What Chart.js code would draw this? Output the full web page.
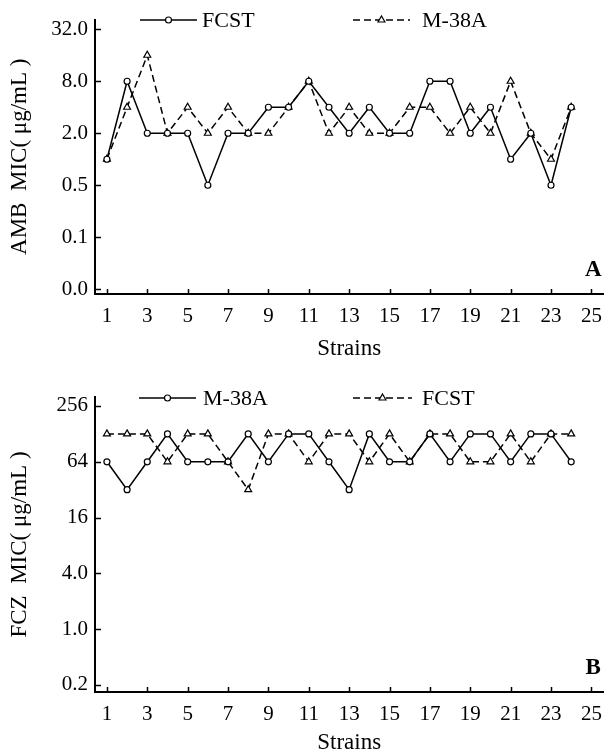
<!DOCTYPE html>
<html>
<head>
<meta charset="utf-8">
<script src="https://cdn.jsdelivr.net/npm/chart.js@4"></script>
<style>
  body { margin: 0; background: #fff; }
  #wrap { position: relative; width: 612px; height: 754px; }
  canvas { position: absolute; left: 0; }
</style>
</head>
<body>
<div id="wrap">
  <canvas id="chartA" width="612" height="365" style="top:0"></canvas>
  <canvas id="chartB" width="612" height="389" style="top:365px"></canvas>
</div>
<script>
// strains on the x axis
const strains = [1, 2, 3, 4, 5, 6, 7, 8, 9, 10, 11, 12, 13, 14, 15, 16, 17, 18, 19, 20, 21, 22, 23, 24];
const xTicks = [1, 3, 5, 7, 9, 11, 13, 15, 17, 19, 21, 23, 25];

// panel A: AMB MIC (ug/mL)
const ambFcst = [1, 8, 2, 2, 2, 0.5, 2, 2, 4, 4, 8, 4, 2, 4, 2, 2, 8, 8, 2, 4, 1, 2, 0.5, 4];
const ambM38a = [1, 4, 16, 2, 4, 2, 4, 2, 2, 4, 8, 2, 4, 2, 2, 4, 4, 2, 4, 2, 8, 2, 1, 4];
const ambTicks = [0.03125, 0.125, 0.5, 2, 8, 32];
const ambLabels = ['0.0', '0.1', '0.5', '2.0', '8.0', '32.0'];

// panel B: FCZ MIC (ug/mL)
const fczM38a = [64, 32, 64, 128, 64, 64, 64, 128, 64, 128, 128, 64, 32, 128, 64, 64, 128, 64, 128, 128, 64, 128, 128, 64];
const fczFcst = [128, 128, 128, 64, 128, 128, 64, 32, 128, 128, 64, 128, 128, 64, 128, 64, 128, 128, 64, 64, 128, 64, 128, 128];
const fczTicks = [0.25, 1, 4, 16, 64, 256];
const fczLabels = ['0.2', '1.0', '4.0', '16', '64', '256'];

Chart.defaults.font.family = '"Liberation Serif", "Times New Roman", serif';
Chart.defaults.color = '#000';

// small ticks pointing into the plot
const inwardTicks = {
    id: 'inwardTicks',
    afterDraw(chart) {
        const ctx = chart.ctx;
        const area = chart.chartArea;
        const x = chart.scales.x, y = chart.scales.y;
        ctx.save();
        ctx.strokeStyle = '#000';
        ctx.lineWidth = 1.5;
        ctx.beginPath();
        x.ticks.forEach(t => {
            const px = Math.round(x.getPixelForValue(t.value)) + 0.5;
            ctx.moveTo(px, area.bottom);
            ctx.lineTo(px, area.bottom - 5);
        });
        y.ticks.forEach(t => {
            const py = Math.round(y.getPixelForValue(t.value)) + 0.5;
            ctx.moveTo(area.left, py);
            ctx.lineTo(area.left + 6, py);
        });
        ctx.stroke();
        ctx.restore();
    }
};

// legend drawn as line + marker + text
const lineKey = {
    id: 'lineKey',
    afterDraw(chart, args, opts) {
        const ctx = chart.ctx;
        ctx.save();
        chart.data.datasets.forEach((ds, i) => {
            const it = opts.items[i];
            ctx.strokeStyle = '#000';
            ctx.lineWidth = 1.5;
            ctx.setLineDash(ds.borderDash || []);
            ctx.beginPath();
            ctx.moveTo(it.x0, opts.y);
            ctx.lineTo(it.x1, opts.y);
            ctx.stroke();
            ctx.setLineDash([]);
            ctx.fillStyle = '#fff';
            ctx.lineWidth = 1.2;
            Chart.helpers.drawPoint(ctx, {
                pointStyle: ds.pointStyle,
                radius: ds.pointRadius,
                borderWidth: 1.2,
                rotation: 0
            }, (it.x0 + it.x1) / 2, opts.y);
            ctx.fillStyle = '#000';
            ctx.font = '22px "Liberation Serif", serif';
            ctx.textBaseline = 'middle';
            ctx.fillText(ds.label, it.tx, opts.y + 1);
        });
        ctx.restore();
    }
};

// panel letter in the lower right corner
const panelTag = {
    id: 'panelTag',
    afterDraw(chart, args, opts) {
        const ctx = chart.ctx;
        const area = chart.chartArea;
        ctx.save();
        ctx.fillStyle = '#000';
        ctx.font = 'bold 23px "Liberation Serif", serif';
        ctx.textAlign = 'center';
        ctx.textBaseline = 'middle';
        ctx.fillText(opts.text, area.right - 10, area.bottom - 24);
        ctx.restore();
    }
};

function series(label, values, dashed) {
    return {
        label: label,
        data: strains.map((s, i) => ({ x: s, y: values[i] })),
        borderColor: '#000',
        backgroundColor: '#fff',
        borderWidth: 1.5,
        borderDash: dashed ? [7, 4] : [],
        pointStyle: dashed ? 'triangle' : 'circle',
        pointRadius: dashed ? 4 : 3,
        pointBorderWidth: 1.2,
        pointBackgroundColor: '#fff',
        pointBorderColor: '#000',
        tension: 0
    };
}

function makeChart(id, datasets, p) {
    new Chart(document.getElementById(id), {
        type: 'line',
        data: { datasets: datasets },
        plugins: [inwardTicks, lineKey, panelTag],
        options: {
            responsive: false,
            animation: false,
            devicePixelRatio: 1,
            layout: { padding: { top: p.top, right: 2, left: 0, bottom: 0 } },
            plugins: {
                legend: { display: false },
                tooltip: { enabled: false },
                lineKey: { y: p.keyY, items: p.keyItems },
                panelTag: { text: p.tag }
            },
            scales: {
                x: {
                    type: 'linear',
                    min: 0.41,
                    max: 25.59,
                    afterBuildTicks: s => { s.ticks = xTicks.map(v => ({ value: v })); },
                    afterFit: s => { s.height = p.xHeight; },
                    grid: { display: false, drawTicks: false },
                    border: { display: true, color: '#000', width: 2 },
                    ticks: { font: { size: 21 }, padding: 10, maxRotation: 0 },
                    title: {
                        display: true,
                        text: 'Strains',
                        font: { size: 23, lineHeight: 1 },
                        padding: { top: 0, bottom: p.titlePad }
                    }
                },
                y: {
                    type: 'logarithmic',
                    min: p.yMin,
                    max: p.yMax,
                    afterBuildTicks: s => { s.ticks = p.yTicks.map(v => ({ value: v })); },
                    afterFit: s => { s.width = 95; },
                    grid: { display: false, drawTicks: false },
                    border: { display: true, color: '#000', width: 2 },
                    ticks: {
                        font: { size: 21 },
                        padding: 7,
                        callback: v => {
                            const i = p.yTicks.indexOf(v);
                            return i >= 0 ? p.yLabels[i] : '';
                        }
                    },
                    title: {
                        display: true,
                        text: p.yTitle,
                        font: { size: 23 },
                        padding: { top: 6, bottom: 0 }
                    }
                }
            }
        }
    });
}

makeChart('chartA', [series('FCST', ambFcst, false), series('M-38A', ambM38a, true)], {
    top: 10, xHeight: 71, titlePad: 5,
    yMin: 0.0275, yMax: 41.4, yTicks: ambTicks, yLabels: ambLabels,
    yTitle: 'AMB  MIC( μg/mL )', tag: 'A',
    keyY: 20, keyItems: [{ x0: 140, x1: 197, tx: 202 }, { x0: 353, x1: 410, tx: 422 }]
});

makeChart('chartB', [series('M-38A', fczM38a, false), series('FCST', fczFcst, true)], {
    top: 32, xHeight: 62, titlePad: 0,
    yMin: 0.21, yMax: 320, yTicks: fczTicks, yLabels: fczLabels,
    yTitle: 'FCZ  MIC( μg/mL )', tag: 'B',
    keyY: 33, keyItems: [{ x0: 139, x1: 196, tx: 203 }, { x0: 353, x1: 412, tx: 422 }]
});
</script>
</body>
</html>
